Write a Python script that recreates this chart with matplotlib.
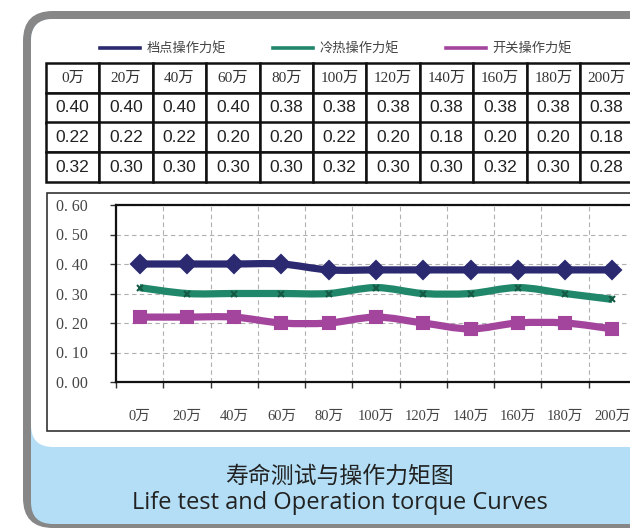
import numpy as np
import matplotlib
matplotlib.use('Agg')
import matplotlib.pyplot as plt
from matplotlib.patches import FancyBboxPatch, Rectangle, PathPatch
from matplotlib.path import Path
from matplotlib.lines import Line2D
from matplotlib.ticker import FixedLocator, FixedFormatter

# data
cycles = ['0万', '20万', '40万', '60万', '80万', '100万', '120万',
          '140万', '160万', '180万', '200万']
detent = [0.40, 0.40, 0.40, 0.40, 0.38, 0.38, 0.38, 0.38, 0.38, 0.38, 0.38]
switch = [0.22, 0.22, 0.22, 0.20, 0.20, 0.22, 0.20, 0.18, 0.20, 0.20, 0.18]
thermal = [0.32, 0.30, 0.30, 0.30, 0.30, 0.32, 0.30, 0.30, 0.32, 0.30, 0.28]
names = ['档点操作力矩', '冷热操作力矩', '开关操作力矩']
yticks = [0.0, 0.1, 0.2, 0.3, 0.4, 0.5, 0.6]
title_cn = '寿命测试与操作力矩图'
title_en = 'Life test and Operation torque Curves'

NAVY = '#2b296f'
GREEN = '#20876a'
MAGENTA = '#a4459d'
CJK = 'Noto Sans CJK SC'
SERIF = ['Liberation Serif', CJK]

W, H = 630, 529
fig = plt.figure(figsize=(W / 100, H / 100), dpi=100)

# background in pixel coordinates
bg = fig.add_axes([0, 0, 1, 1])
bg.set_xlim(0, W)
bg.set_ylim(H, 0)
bg.axis('off')

bg.add_patch(FancyBboxPatch((23, 11), 660, 517, boxstyle='round,pad=0,rounding_size=30',
                            fc='#878787', ec='none'))
bg.add_patch(FancyBboxPatch((31, 19), 650, 505, boxstyle='round,pad=0,rounding_size=22',
                            fc='#b3def5', ec='none'))
bg.add_patch(FancyBboxPatch((31, 19), 650, 428, boxstyle='round,pad=0,rounding_size=22',
                            fc='white', ec='none'))
# chart area frame
bg.add_patch(Rectangle((47, 193), 640, 238, fc='white', ec='#333333', lw=1.2))

# table
col_w = 53.4
tx0, ty0, ty1 = 46, 63, 182
cell_text = [cycles,
             ['%.2f' % v for v in detent],
             ['%.2f' % v for v in switch],
             ['%.2f' % v for v in thermal]]
tbl = bg.table(cellText=cell_text, cellLoc='center',
               bbox=[tx0 / W, 1 - ty1 / H, len(cycles) * col_w / W, (ty1 - ty0) / H])
tbl.set_zorder(5)
tbl.auto_set_font_size(False)
for (r, c), cell in tbl.get_celld().items():
    cell.set_linewidth(1.8)
    cell.set_edgecolor('#111111')
    t = cell.get_text()
    if r == 0:
        t.set_fontfamily(SERIF)
        t.set_fontsize(11)
        t.set_color('#333333')
    else:
        t.set_fontfamily('Liberation Sans')
        t.set_fontsize(12.5)
        t.set_color('#222222')

# legend
handles = [Line2D([], [], color=col, lw=2.6) for col in (NAVY, GREEN, MAGENTA)]
fig.legend(handles, names, loc='center', bbox_to_anchor=(336 / W, 1 - 49 / H),
           ncol=3, frameon=False, prop={'family': CJK, 'size': 9.5},
           handlelength=3.0, handletextpad=0.5, columnspacing=3.6,
           labelcolor='#444444')

# plot area
x = np.arange(len(cycles))
ax = fig.add_axes([116 / W, 1 - 382 / H, 520 / W, 177 / H])
ax.set_xlim(-0.5, len(cycles) - 0.5)
ax.set_ylim(0, 0.6)
ax.set_facecolor('white')
for s in ax.spines.values():
    s.set_linewidth(1.6)
    s.set_color('#111111')

bounds = np.arange(len(cycles) + 1) - 0.5
ax.xaxis.set_major_locator(FixedLocator(bounds))
ax.xaxis.set_major_formatter(FixedFormatter([''] * len(bounds)))
ax.xaxis.set_minor_locator(FixedLocator(x))
ax.xaxis.set_minor_formatter(FixedFormatter(cycles))
ax.tick_params(axis='x', which='major', length=4, width=1, direction='out', color='#333333')
ax.tick_params(axis='x', which='minor', length=0, pad=20, labelsize=10.5, labelcolor='#444444')
for lab in ax.get_xticklabels(minor=True):
    lab.set_fontfamily(SERIF)

ax.set_yticks(yticks)
ax.set_yticklabels([('%.2f' % v).replace('.', '. ') for v in yticks])
ax.tick_params(axis='y', length=4, width=1, direction='out', pad=16, labelsize=11.5,
               labelcolor='#444444', color='#333333')
for lab in ax.get_yticklabels():
    lab.set_fontfamily('Liberation Serif')

ax.grid(True, which='major', color='#b0b0b0', lw=0.8, ls=(0, (4, 3)))
ax.set_axisbelow(True)


def smooth_path(xs, ys):
    # Excel-style smoothed line: cubic Bezier segments (Catmull-Rom)
    pts = np.column_stack([xs, ys]).astype(float)
    ext = np.vstack([pts[0], pts, pts[-1]])
    verts = [pts[0]]
    codes = [Path.MOVETO]
    for i in range(len(pts) - 1):
        p0, p1, p2, p3 = ext[i], ext[i + 1], ext[i + 2], ext[i + 3]
        verts += [p1 + (p2 - p0) / 6, p2 - (p3 - p1) / 6, p2]
        codes += [Path.CURVE4] * 3
    return Path(verts, codes)


series = [(detent, NAVY, 'D', 9, NAVY),
          (thermal, GREEN, 'x', 4, '#155a45'),
          (switch, MAGENTA, 's', 8, MAGENTA)]
for vals, col, mk, ms, mcol in series:
    ax.add_patch(PathPatch(smooth_path(x, vals), fill=False, ec=col, lw=5.2,
                           capstyle='butt', joinstyle='round', zorder=3))
    ax.plot(x, vals, ls='none', marker=mk, ms=ms, color=mcol, mec=mcol,
            mew=1.5, zorder=4)

# caption
fig.text(339 / W, 1 - 476 / H, title_cn, ha='center', va='center',
         family=CJK, fontsize=16.5, color='#222222')
fig.text(340 / W, 1 - 503 / H, title_en, ha='center', va='center',
         family='Open Sans', fontsize=17, color='#222222')

fig.savefig('out.png', dpi=100)
